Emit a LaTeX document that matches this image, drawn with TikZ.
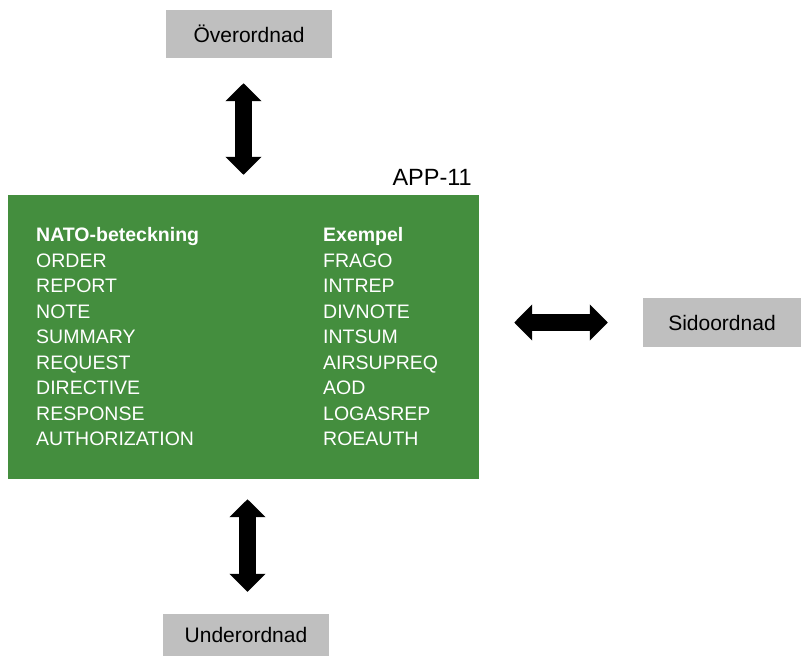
\documentclass[tikz,border=0pt]{standalone}
\usepackage{fontspec}
\setmainfont{Liberation Sans}
\usepackage{tikz}
\usetikzlibrary{positioning,calc,arrows.meta}

\definecolor{appgreen}{RGB}{68,142,62}
\definecolor{boxgray}{RGB}{191,191,191}

\tikzset{
    levelbox/.style={fill=boxgray, minimum height=48pt, inner sep=0pt, font=\fontsize{21}{24}\selectfont},
    blockarrow/.style={line width=17pt, draw=black,
        {Triangle[width=35pt,length=18pt]}-{Triangle[width=35pt,length=18pt]}},
    coltext/.style={text=white, align=left, inner sep=0pt, font=\fontsize{19.5}{25.5}\selectfont}
}

\begin{document}
\begin{tikzpicture}[x=1pt, y=-1pt]
    \useasboundingbox (0,0) rectangle (801,656);

    % message box
    \node (app) [fill=appgreen, minimum width=471pt, minimum height=284pt, inner sep=0pt] at (243.5,337) {};
    \node (apptitle) [anchor=base east, inner sep=0pt, font=\fontsize{23.5}{26}\selectfont] at (472,185) {APP-11};
    \node (natocol) [coltext, anchor=base west] at (36,445.5) {\textbf{NATO-beteckning}\\ORDER\\REPORT\\NOTE\\SUMMARY\\REQUEST\\DIRECTIVE\\RESPONSE\\AUTHORIZATION};
    \node (excol) [coltext, anchor=base west] at (323,445.5) {\textbf{Exempel}\\FRAGO\\INTREP\\DIVNOTE\\INTSUM\\AIRSUPREQ\\AOD\\LOGASREP\\ROEAUTH};

    % levels
    \node (over) [levelbox, minimum width=166pt] at (249,34) {Överordnad};
    \node (side) [levelbox, minimum width=158pt, minimum height=49pt] at (722,322.5) {Sidoordnad};
    \node (under) [levelbox, minimum width=166pt, minimum height=42pt] at (246,635) {Underordnad};

    \draw[blockarrow, shorten <=25pt, shorten >=20pt] (over.south -| app.north) -- (app.north);
    \draw[blockarrow, shorten <=35pt, shorten >=35pt] (app.east |- side.west) -- (side.west);
    \draw[blockarrow, shorten <=20pt, shorten >=22pt] ([xshift=4pt]app.south) -- ([xshift=4pt]app.south |- under.north);
\end{tikzpicture}
\end{document}
